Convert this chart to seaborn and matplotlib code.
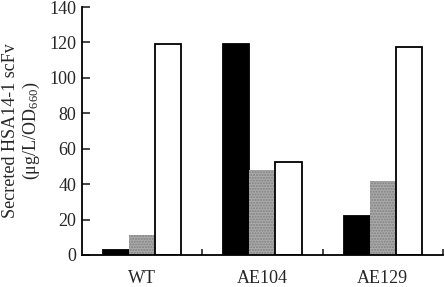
import matplotlib
matplotlib.use("Agg")
import matplotlib.pyplot as plt
import seaborn as sns
import pandas as pd

# Values
strains = ["WT", "AE104", "AE129"]
series = ["s1", "s2", "s3"]
black_vals = [2.8, 119, 22]
gray_vals = [11.3, 48, 41.5]
white_vals = [119, 52.5, 117.5]
y_ticks = [0, 20, 40, 60, 80, 100, 120, 140]

df = pd.DataFrame({
    "Strain": strains * 3,
    "Series": [s for s in series for _ in strains],
    "Value": black_vals + gray_vals + white_vals,
})

sns.set_theme(style="ticks")
plt.rcParams["font.family"] = ["Liberation Serif", "DejaVu Serif"]
plt.rcParams["mathtext.fontset"] = "custom"
plt.rcParams["mathtext.rm"] = "Liberation Serif"
plt.rcParams["mathtext.it"] = "Liberation Serif:italic"

fig = plt.figure(figsize=(4.45, 2.87), dpi=100)
ax = fig.add_axes([0.184, 0.1115, 0.8115, 0.864])

palette = {"s1": "black", "s2": "#ababab", "s3": "white"}
sns.barplot(data=df, x="Strain", y="Value", hue="Series", palette=palette,
            width=0.65, gap=0, saturation=1, legend=False, ax=ax,
            edgecolor="black", linewidth=1.3)

# Gray bars: dotted texture, no outline
for bar in ax.containers[1]:
    bar.set_edgecolor("#808080")
    bar.set_hatch("......")
    bar.set_linewidth(0)

ax.set_xlim(-0.5, 2.5)
ax.set_ylim(0, 140)
ax.set_yticks(y_ticks)
ax.set_xlabel("")
ax.set_ylabel("Secreted HSA14-1 scFv\n(\u03bcg/L/OD$_{660}$)", fontsize=13,
              labelpad=5, linespacing=1.15)

ax.tick_params(axis="y", direction="in", length=6, width=1.2, labelsize=13, pad=4)
ax.tick_params(axis="x", length=0, labelsize=13, pad=11)
ax.set_xticks([0.5, 1.5, 2.5], minor=True)
ax.tick_params(axis="x", which="minor", direction="in", length=4, width=1.2)

sns.despine(ax=ax)
for sp in ["left", "bottom"]:
    ax.spines[sp].set_linewidth(1.3)
    ax.spines[sp].set_color("black")

fig.savefig("out.png", dpi=100)
